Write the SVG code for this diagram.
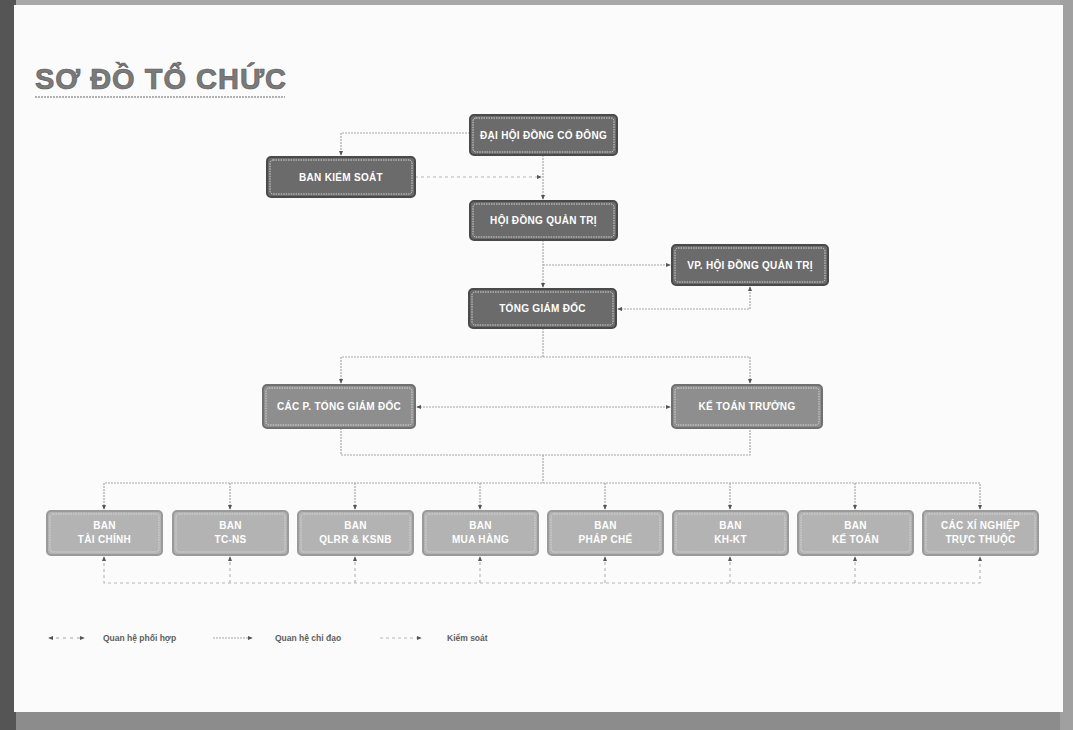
<svg xmlns="http://www.w3.org/2000/svg" width="1073" height="730" viewBox="0 0 1073 730">
<defs>
<style>
.t{font-family:"Liberation Sans",Arial,sans-serif;font-weight:bold;font-size:10px;letter-spacing:0.3px;fill:#ffffff;text-anchor:middle}
.n1{fill:#6b6b6b;stroke:#4a4a4a;stroke-width:2}
.n2{fill:#8e8e8e;stroke:#707070;stroke-width:2}
.n3{fill:#b3b3b3;stroke:#9a9a9a;stroke-width:2}
.in{fill:none;stroke:#d8d8d8;stroke-width:1;stroke-dasharray:1.5 1}
.c{fill:none;stroke:#a8a8a8;stroke-width:1.2;stroke-dasharray:2 1}
.k{fill:none;stroke:#b8b8b8;stroke-width:1.2;stroke-dasharray:3 3}
.lg{font-family:"Liberation Sans",Arial,sans-serif;font-weight:bold;font-size:8.5px;fill:#5e5e5e}
</style>
<marker id="a" viewBox="0 0 6 6" refX="5" refY="3" markerWidth="5" markerHeight="5" orient="auto-start-reverse" markerUnits="userSpaceOnUse">
<path d="M0,0.5 L6,3 L0,5.5 Z" fill="#555"/>
</marker>
</defs>
<rect x="0" y="0" width="1073" height="730" fill="#8c8c8c"/>
<rect x="0" y="0" width="1073" height="6" fill="#a8a8a8"/>
<rect x="1060" y="0" width="13" height="730" fill="#a0a0a0"/>
<rect x="0" y="0" width="16" height="730" fill="#555555"/>
<rect x="14" y="5" width="1049" height="707" fill="#fbfbfb"/>
<g id="title">
<text x="35" y="89" font-family="'Liberation Sans',Arial,sans-serif" font-weight="bold" font-size="29" letter-spacing="1" fill="#7a7a7a" stroke="#5e5e5e" stroke-width="0.7">SƠ ĐỒ TỔ CHỨC</text>
<line x1="35" y1="97" x2="285" y2="97" stroke="#999" stroke-width="1.5" stroke-dasharray="2 1"/>
</g>
<g id="connectors">
<path class="c" d="M470,133 H341 V155" marker-end="url(#a)"/>
<path class="c" d="M543,155 V199" marker-end="url(#a)"/>
<path class="k" d="M415,177 H541" marker-end="url(#a)"/>
<path class="c" d="M543,240 V287" marker-end="url(#a)"/>
<path class="c" d="M543,265 H670" marker-end="url(#a)"/>
<path class="c" d="M618,309 H750 V287" marker-start="url(#a)" marker-end="url(#a)"/>
<path class="c" d="M543,328 V357"/>
<path class="c" d="M341,383 V357 H750 V383" marker-start="url(#a)" marker-end="url(#a)"/>
<path class="c" d="M417,407 H670" marker-start="url(#a)" marker-end="url(#a)"/>
<path class="c" d="M341,428 V455 H750 V428"/>
<path class="c" d="M543,455 V483"/>
<path class="c" d="M104,509 V483 H980 V509" marker-start="url(#a)" marker-end="url(#a)"/>
<path class="c" d="M230,483 V509" marker-end="url(#a)"/>
<path class="c" d="M355,483 V509" marker-end="url(#a)"/>
<path class="c" d="M480,483 V509" marker-end="url(#a)"/>
<path class="c" d="M605,483 V509" marker-end="url(#a)"/>
<path class="c" d="M730,483 V509" marker-end="url(#a)"/>
<path class="c" d="M855,483 V509" marker-end="url(#a)"/>
<path class="k" d="M104,557 V583 H980 V557" marker-start="url(#a)" marker-end="url(#a)"/>
<path class="k" d="M230,583 V557" marker-end="url(#a)"/>
<path class="k" d="M355,583 V557" marker-end="url(#a)"/>
<path class="k" d="M480,583 V557" marker-end="url(#a)"/>
<path class="k" d="M605,583 V557" marker-end="url(#a)"/>
<path class="k" d="M730,583 V557" marker-end="url(#a)"/>
<path class="k" d="M855,583 V557" marker-end="url(#a)"/>
</g>
<g id="n-dhdcd"><rect class="n1" x="470" y="115" width="147" height="40" rx="4"/><rect class="in" x="473" y="118" width="141" height="34" rx="3"/><text class="t" x="543.5" y="138.5">ĐẠI HỘI ĐỒNG CỔ ĐÔNG</text></g>
<g id="n-bks"><rect class="n1" x="267" y="157" width="148" height="40" rx="4"/><rect class="in" x="270" y="160" width="142" height="34" rx="3"/><text class="t" x="341" y="180.5">BAN KIỂM SOÁT</text></g>
<g id="n-hdqt"><rect class="n1" x="470" y="201" width="147" height="39" rx="4"/><rect class="in" x="473" y="204" width="141" height="33" rx="3"/><text class="t" x="543.5" y="224">HỘI ĐỒNG QUẢN TRỊ</text></g>
<g id="n-vp"><rect class="n1" x="672" y="245" width="156" height="40" rx="4"/><rect class="in" x="675" y="248" width="150" height="34" rx="3"/><text class="t" x="750" y="268.5">VP. HỘI ĐỒNG QUẢN TRỊ</text></g>
<g id="n-tgd"><rect class="n1" x="469" y="289" width="147" height="39" rx="4"/><rect class="in" x="472" y="292" width="141" height="33" rx="3"/><text class="t" x="542.5" y="312">TỔNG GIÁM ĐỐC</text></g>
<g id="n-cacp"><rect class="n2" x="263" y="385" width="152" height="43" rx="4"/><rect class="in" x="266" y="388" width="146" height="37" rx="3"/><text class="t" x="339" y="410">CÁC P. TỔNG GIÁM ĐỐC</text></g>
<g id="n-ktt"><rect class="n2" x="672" y="385" width="150" height="43" rx="4"/><rect class="in" x="675" y="388" width="144" height="37" rx="3"/><text class="t" x="747" y="410">KẾ TOÁN TRƯỞNG</text></g>
<g id="n-b1"><rect class="n3" x="47" y="511" width="115" height="44" rx="4"/><rect class="in" x="50" y="514" width="109" height="38" rx="3"/><text class="t" x="104.5" y="529">BAN</text><text class="t" x="104.5" y="543">TÀI CHÍNH</text></g>
<g id="n-b2"><rect class="n3" x="173" y="511" width="115" height="44" rx="4"/><rect class="in" x="176" y="514" width="109" height="38" rx="3"/><text class="t" x="230.5" y="529">BAN</text><text class="t" x="230.5" y="543">TC-NS</text></g>
<g id="n-b3"><rect class="n3" x="298" y="511" width="115" height="44" rx="4"/><rect class="in" x="301" y="514" width="109" height="38" rx="3"/><text class="t" x="355.5" y="529">BAN</text><text class="t" x="355.5" y="543">QLRR &amp; KSNB</text></g>
<g id="n-b4"><rect class="n3" x="423" y="511" width="115" height="44" rx="4"/><rect class="in" x="426" y="514" width="109" height="38" rx="3"/><text class="t" x="480.5" y="529">BAN</text><text class="t" x="480.5" y="543">MUA HÀNG</text></g>
<g id="n-b5"><rect class="n3" x="548" y="511" width="115" height="44" rx="4"/><rect class="in" x="551" y="514" width="109" height="38" rx="3"/><text class="t" x="605.5" y="529">BAN</text><text class="t" x="605.5" y="543">PHÁP CHẾ</text></g>
<g id="n-b6"><rect class="n3" x="673" y="511" width="115" height="44" rx="4"/><rect class="in" x="676" y="514" width="109" height="38" rx="3"/><text class="t" x="730.5" y="529">BAN</text><text class="t" x="730.5" y="543">KH-KT</text></g>
<g id="n-b7"><rect class="n3" x="798" y="511" width="115" height="44" rx="4"/><rect class="in" x="801" y="514" width="109" height="38" rx="3"/><text class="t" x="855.5" y="529">BAN</text><text class="t" x="855.5" y="543">KẾ TOÁN</text></g>
<g id="n-b8"><rect class="n3" x="923" y="511" width="115" height="44" rx="4"/><rect class="in" x="926" y="514" width="109" height="38" rx="3"/><text class="t" x="980.5" y="529">CÁC XÍ NGHIỆP</text><text class="t" x="980.5" y="543">TRỰC THUỘC</text></g>
<g id="legend">
<path class="c" d="M49,638 H84" marker-start="url(#a)" marker-end="url(#a)" style="stroke-dasharray:3 4"/>
<text class="lg" x="103" y="641">Quan hệ phối hợp</text>
<path class="c" d="M213,638 H252" marker-end="url(#a)"/>
<text class="lg" x="275" y="641">Quan hệ chỉ đạo</text>
<path class="k" d="M380,638 H421" marker-end="url(#a)"/>
<text class="lg" x="447" y="641">Kiểm soát</text>
</g>
</svg>
